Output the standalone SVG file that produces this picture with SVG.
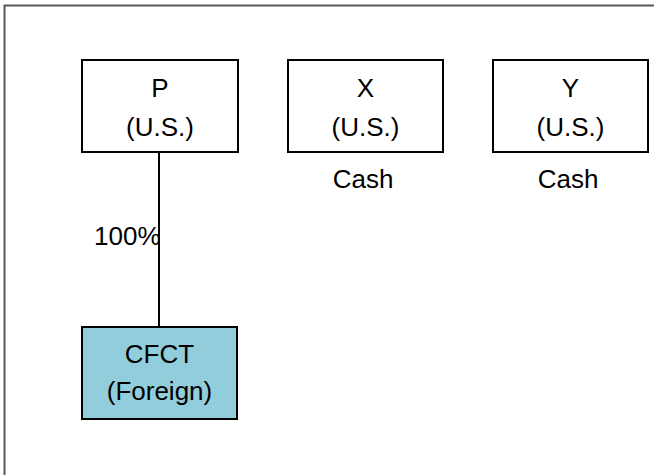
<svg xmlns="http://www.w3.org/2000/svg" width="654" height="475" viewBox="0 0 654 475">
  <style>
    .box { fill: #ffffff; stroke: #000000; stroke-width: 2; }
    .cfc { fill: #92CDDC; stroke: #000000; stroke-width: 2; }
    .t { font-family: "Liberation Sans", Arial, sans-serif; font-size: 26px; fill: #000000; text-anchor: middle; }
    .conn { stroke: #000000; stroke-width: 2; fill: none; }
  </style>
  <rect x="0" y="0" width="654" height="475" fill="#ffffff"/>
  <path d="M4.5,475 L4.5,5.5 L654,5.5" fill="none" stroke="#595959" stroke-width="2"/>
  <g id="connectors">
    <line class="conn" x1="159" y1="152" x2="159" y2="327"/>
    <text class="t" x="94" y="245" style="text-anchor:start">100%</text>
  </g>
  <g id="node-P">
    <rect class="box" x="82" y="60" width="156" height="92"/>
    <text class="t" x="160" y="97">P</text>
    <text class="t" x="160" y="136">(U.S.)</text>
  </g>
  <g id="node-X">
    <rect class="box" x="288" y="60" width="155" height="92"/>
    <text class="t" x="365.5" y="97">X</text>
    <text class="t" x="365.5" y="136">(U.S.)</text>
    <text class="t" x="363" y="188">Cash</text>
  </g>
  <g id="node-Y">
    <rect class="box" x="493" y="60" width="155" height="92"/>
    <text class="t" x="570.5" y="97">Y</text>
    <text class="t" x="570.5" y="136">(U.S.)</text>
    <text class="t" x="568" y="188">Cash</text>
  </g>
  <g id="node-CFCT">
    <rect class="cfc" x="82" y="327" width="155" height="92"/>
    <text class="t" x="159.5" y="363">CFCT</text>
    <text class="t" x="159.5" y="400">(Foreign)</text>
  </g>
</svg>
